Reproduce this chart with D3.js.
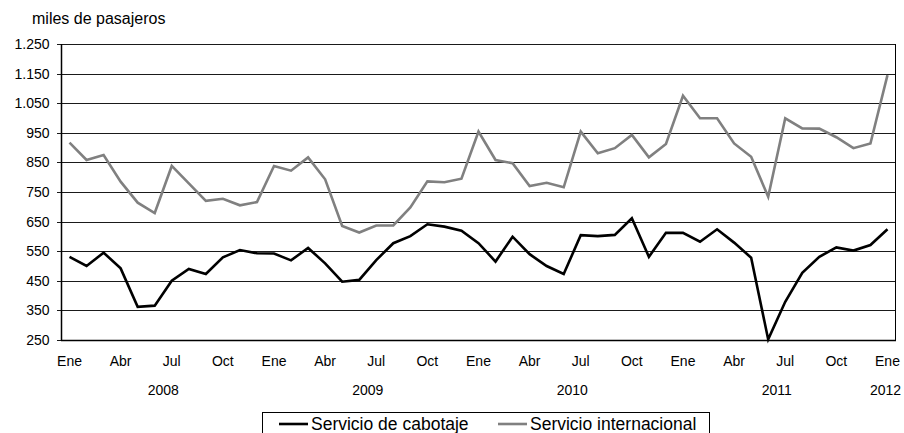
<!DOCTYPE html>
<html>
<head>
<meta charset="utf-8">
<script src="https://cdn.jsdelivr.net/npm/d3@7"></script>
<style>
  body { margin: 0; background: #fff; }
  text { font-family: Arial, "Liberation Sans", sans-serif; fill: #000; }
</style>
</head>
<body>
<script>
// month labels, Ene 2008 .. Ene 2012
const meses = ["Ene","Feb","Mar","Abr","May","Jun","Jul","Ago","Sep","Oct","Nov","Dic"];
const years = ["2008", "2009", "2010", "2011", "2012"];
const months = [];
years.forEach(y => meses.forEach((m, i) => { if (y !== "2012" || i === 0) months.push(m + " " + y); }));

const cabotaje = [531, 500, 545, 492, 362, 366, 450, 490, 473, 529, 554, 543,
                  542, 519, 561, 509, 447, 453, 520, 577, 601, 641, 633, 619,
                  577, 515, 599, 540, 500, 473, 604, 601, 605, 661, 531, 612,
                  612, 582, 624, 579, 528, 252, 379, 477, 531, 563, 552, 571,
                  624];
const internacional = [917, 858, 875, 785, 714, 679, 838, 779, 720, 727, 705, 716,
                       838, 822, 867, 793, 635, 613, 637, 637, 698, 786, 783, 795,
                       954, 858, 847, 770, 781, 766, 954, 881, 898, 943, 867, 912,
                       1075, 999, 999, 914, 869, 734, 999, 965, 964, 935, 898, 914,
                       1145];
const yTicks = [250, 350, 450, 550, 650, 750, 850, 950, 1050, 1150, 1250];
const seriesNames = ["Servicio de cabotaje", "Servicio internacional"];
const seriesColors = ["#000000", "#808080"];

const width = 904, height = 433;
const margin = { top: 44, right: 8, bottom: 93, left: 61 };
const innerW = width - margin.left - margin.right;
const innerH = height - margin.top - margin.bottom;

const svg = d3.select("body").append("svg")
    .attr("width", width)
    .attr("height", height);

const g = svg.append("g")
    .attr("transform", `translate(${margin.left},${margin.top})`);

const x = d3.scalePoint()
    .domain(months)
    .range([0, innerW])
    .padding(0.5);

const y = d3.scaleLinear()
    .domain([250, 1250])
    .range([innerH, 0]);

const fmt = d3.formatLocale({ decimal: ",", thousands: ".", grouping: [3], currency: ["", ""] }).format(",");

// grid lines
g.append("g")
    .selectAll("line")
    .data(yTicks)
    .join("line")
    .attr("x1", -4)
    .attr("x2", innerW)
    .attr("y1", d => Math.round(y(d)) + 0.5)
    .attr("y2", d => Math.round(y(d)) + 0.5)
    .attr("stroke", "#1a1a1a")
    .attr("stroke-width", 1);

// frame: left, right, bottom
g.append("line")
    .attr("x1", 0.5).attr("x2", 0.5)
    .attr("y1", 0).attr("y2", innerH)
    .attr("stroke", "#000").attr("stroke-width", 1.5);
g.append("line")
    .attr("x1", innerW - 0.5).attr("x2", innerW - 0.5)
    .attr("y1", 0).attr("y2", innerH)
    .attr("stroke", "#000").attr("stroke-width", 1);
g.append("line")
    .attr("x1", 0).attr("x2", innerW)
    .attr("y1", innerH + 0.5).attr("y2", innerH + 0.5)
    .attr("stroke", "#000").attr("stroke-width", 1.5);

// y labels
g.append("g")
    .selectAll("text")
    .data(yTicks)
    .join("text")
    .attr("x", -11.5)
    .attr("y", d => y(d))
    .attr("dy", "0.35em")
    .attr("text-anchor", "end")
    .style("font-size", "14px")
    .text(d => fmt(d));

// x month labels (every 3 months)
g.append("g")
    .selectAll("text")
    .data(months.filter((m, i) => i % 3 === 0))
    .join("text")
    .attr("x", d => x(d))
    .attr("y", innerH + 26)
    .attr("text-anchor", "middle")
    .style("font-size", "14px")
    .text(d => d.split(" ")[0]);

// year labels
g.append("g")
    .selectAll("text")
    .data(years)
    .join("text")
    .attr("x", d => d === "2012" ? x("Ene 2012") - 2 : (x("Jun " + d) + x("Jul " + d)) / 2)
    .attr("y", innerH + 55)
    .attr("text-anchor", "middle")
    .style("font-size", "14px")
    .text(d => d);

// lines
const line = d3.line()
    .x((d, i) => x(months[i]))
    .y(d => y(d));

[internacional, cabotaje].forEach((s, k) => {
    g.append("path")
        .datum(s)
        .attr("fill", "none")
        .attr("stroke", k === 0 ? seriesColors[1] : seriesColors[0])
        .attr("stroke-width", 2.6)
        .attr("stroke-linejoin", "miter")
        .attr("d", line);
});

// axis title
svg.append("text")
    .attr("x", 32)
    .attr("y", 23.5)
    .style("font-size", "16px")
    .text("miles de pasajeros");

// legend
const legend = svg.append("g");
legend.append("rect")
    .attr("x", 262.5)
    .attr("y", 412.5)
    .attr("width", 447)
    .attr("height", 40)
    .attr("fill", "#fff")
    .attr("stroke", "#000")
    .attr("stroke-width", 1);

const legendX = [279, 498];
seriesNames.forEach((name, i) => {
    legend.append("line")
        .attr("x1", legendX[i]).attr("x2", legendX[i] + 29)
        .attr("y1", 424).attr("y2", 424)
        .attr("stroke", seriesColors[i])
        .attr("stroke-width", 2.6);
    legend.append("text")
        .attr("x", legendX[i] + 32)
        .attr("y", 430)
        .style("font-size", "17.5px")
        .text(name);
});
</script>
</body>
</html>
